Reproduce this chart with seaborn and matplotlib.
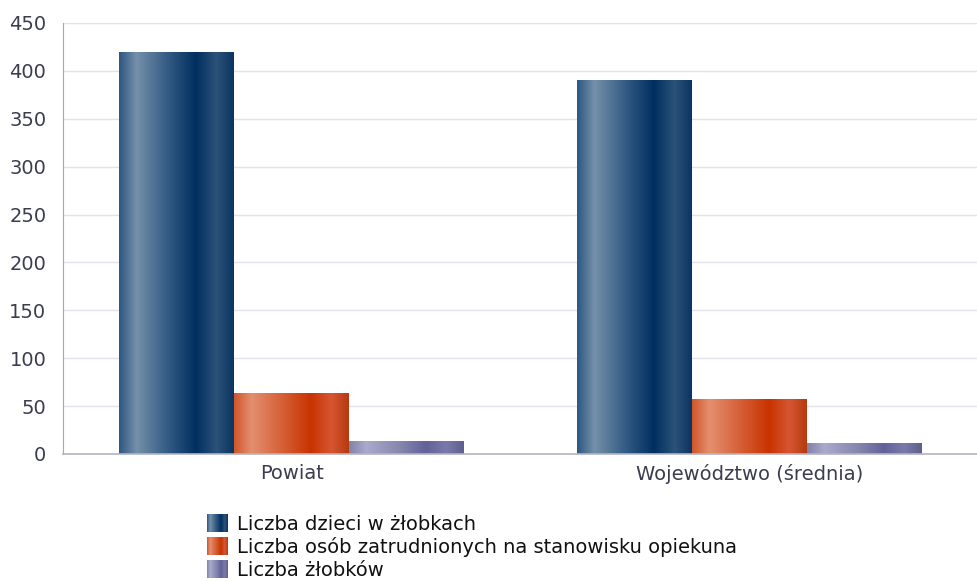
import matplotlib
matplotlib.use('Agg')
import matplotlib.pyplot as plt
import matplotlib.colors as mcolors
from matplotlib.legend_handler import HandlerBase
from matplotlib.image import BboxImage
from matplotlib.transforms import Bbox, TransformedBbox
import seaborn as sns
import pandas as pd
import numpy as np

# Data
groups = ['Powiat', 'Województwo (średnia)']
series = ['Liczba dzieci w żłobkach',
          'Liczba osób zatrudnionych na stanowisku opiekuna',
          'Liczba żłobków']
dzieci = [419, 390]
opiekunowie = [63, 57]
zlobki = [13, 11]

df = pd.DataFrame({
    'grupa': groups * 3,
    'seria': [series[0]] * 2 + [series[1]] * 2 + [series[2]] * 2,
    'wartosc': dzieci + opiekunowie + zlobki,
})

# gradient stops per series (position, colour) - cylinder look
stops = {
    series[0]: [(0, '#2d5782'), (0.15, '#7590aa'), (0.45, '#2d5680'), (0.67, '#002f60'), (0.85, '#2b5279'), (1, '#0b3461')],
    series[1]: [(0, '#d0552a'), (0.15, '#e48f70'), (0.45, '#d45a30'), (0.67, '#c83300'), (0.85, '#d65632'), (1, '#b53a0e')],
    series[2]: [(0, '#8282aa'), (0.15, '#aaaacb'), (0.45, '#8585ae'), (0.67, '#62629a'), (0.85, '#7a7aaa'), (1, '#5f5f8e')],
}
cmaps = {k: mcolors.LinearSegmentedColormap.from_list(k, v) for k, v in stops.items()}
solid = {series[0]: '#1f4a75', series[1]: '#d44a1c', series[2]: '#8080a8'}
grad = np.linspace(0, 1, 256).reshape(1, -1)


class HandlerGradient(HandlerBase):
    def __init__(self, cmap):
        super().__init__()
        self.cmap = cmap

    def create_artists(self, legend, orig_handle, xdescent, ydescent, width, height, fontsize, trans):
        bb = TransformedBbox(Bbox.from_bounds(-xdescent, -ydescent, width, height), trans)
        img = BboxImage(bb, cmap=self.cmap, interpolation='bicubic')
        img.set_data(grad)
        return [img]


sns.set_style('white')
plt.rcParams['font.family'] = ['DejaVu Sans']
txt = '#3c3c50'

fig = plt.figure(figsize=(9.78, 5.82), dpi=100)
ax = fig.add_axes([0.0644, 0.22, 0.9356, 0.7405])

sns.barplot(data=df, x='grupa', y='wartosc', hue='seria', hue_order=series,
            palette=solid, width=0.754, gap=0, ax=ax, legend=True, errorbar=None)

# replace flat fills with horizontal gradients
for cont, name in zip(ax.containers, series):
    for bar in cont:
        x0, y0 = bar.get_x(), bar.get_y()
        w, h = bar.get_width(), bar.get_height()
        bar.set_facecolor('none')
        bar.set_edgecolor('none')
        ax.imshow(grad, cmap=cmaps[name], aspect='auto', extent=(x0, x0 + w, y0, y0 + h),
                  interpolation='bicubic', zorder=2)

ax.set_xlim(-0.5, 1.5)
ax.set_ylim(0, 450)
ax.set_yticks(np.arange(0, 451, 50))
ax.yaxis.grid(True, color='#e2e2ea', linewidth=1)
ax.set_axisbelow(True)
ax.set_xlabel('')
ax.set_ylabel('')
ax.tick_params(axis='both', length=0, labelsize=14, colors=txt, pad=7)
ax.tick_params(axis='y', pad=12)

for s in ['top', 'right']:
    ax.spines[s].set_visible(False)
ax.spines['left'].set_color('#a5a5bd')
ax.spines['bottom'].set_color('#b4b4c4')
ax.spines['bottom'].set_linewidth(1.2)

handles, labels = ax.get_legend_handles_labels()
hmap = {h: HandlerGradient(cmaps[l]) for h, l in zip(handles, labels)}
leg = ax.legend(handles, labels, handler_map=hmap, loc='upper left',
                bbox_to_anchor=(0.149, -0.122), frameon=False,
                fontsize=14, handlelength=1.08, handleheight=1.0, handletextpad=0.45,
                labelspacing=0.18, borderaxespad=0)
for t in leg.get_texts():
    t.set_color('#111111')

fig.savefig('out.png', dpi=100)
